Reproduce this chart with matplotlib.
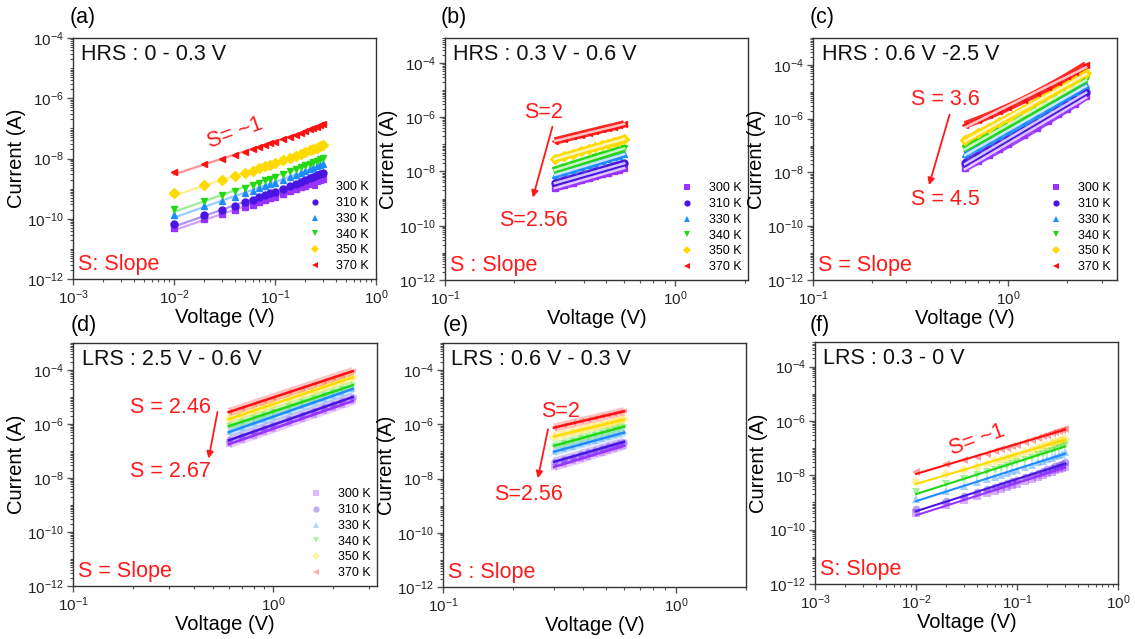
import numpy as np
import matplotlib
matplotlib.use("Agg")
import matplotlib.pyplot as plt
from matplotlib.lines import Line2D
from matplotlib.ticker import LogLocator, LogFormatterSciNotation, NullFormatter

plt.rcParams['font.family'] = ['Liberation Sans', 'DejaVu Sans']
plt.rcParams['mathtext.fontset'] = 'custom'
plt.rcParams['mathtext.rm'] = 'Liberation Sans'
plt.rcParams['mathtext.it'] = 'Liberation Sans:italic'
plt.rcParams['mathtext.bf'] = 'Liberation Sans:bold'
plt.rcParams['mathtext.default'] = 'regular'

temps = ['300 K', '310 K', '330 K', '340 K', '350 K', '370 K']
colors = ['#9933FF', '#4A14E2', '#1E8CFF', '#22D812', '#FFDA00', '#FF1010']
markers = ['s', 'o', '^', 'v', 'D', '<']

# voltages for each region
v_low = [0.01, 0.02, 0.03, 0.04, 0.05, 0.06, 0.07, 0.08, 0.09, 0.10,
         0.12, 0.14, 0.16, 0.18, 0.20, 0.22, 0.24, 0.26, 0.28, 0.30]
v_mid = [0.30, 0.33, 0.36, 0.39, 0.42, 0.45, 0.48, 0.51, 0.54, 0.57, 0.60]
v_high = [0.6, 0.7, 0.8, 0.9, 1.0, 1.2, 1.4, 1.6, 1.8, 2.0, 2.2, 2.5]

# log10(current), rows = 300,310,330,340,350,370 K
logi_a = [
    [-10.30, -10.02, -9.85, -9.72, -9.61, -9.53, -9.45, -9.38, -9.32, -9.27, -9.18, -9.09, -9.02, -8.96, -8.90, -8.84, -8.79, -8.75, -8.71, -8.67],
    [-10.18, -9.89, -9.71, -9.57, -9.46, -9.37, -9.29, -9.22, -9.16, -9.10, -9.00, -8.92, -8.84, -8.77, -8.71, -8.66, -8.61, -8.56, -8.51, -8.47],
    [-9.88, -9.59, -9.41, -9.27, -9.16, -9.07, -8.99, -8.92, -8.86, -8.80, -8.70, -8.62, -8.54, -8.47, -8.41, -8.36, -8.31, -8.26, -8.21, -8.17],
    [-9.69, -9.40, -9.22, -9.08, -8.97, -8.88, -8.80, -8.73, -8.67, -8.61, -8.51, -8.43, -8.35, -8.28, -8.22, -8.17, -8.12, -8.07, -8.02, -7.98],
    [-9.15, -8.88, -8.71, -8.59, -8.49, -8.40, -8.33, -8.26, -8.20, -8.15, -8.06, -7.98, -7.91, -7.84, -7.79, -7.73, -7.69, -7.64, -7.60, -7.56],
    [-8.45, -8.18, -8.01, -7.89, -7.79, -7.70, -7.63, -7.56, -7.50, -7.45, -7.36, -7.28, -7.21, -7.14, -7.09, -7.03, -6.99, -6.94, -6.90, -6.86],
]
logi_b = [
    [-8.61, -8.51, -8.42, -8.33, -8.25, -8.18, -8.11, -8.04, -7.98, -7.93, -7.87],
    [-8.43, -8.33, -8.24, -8.15, -8.08, -8.00, -7.94, -7.87, -7.81, -7.75, -7.70],
    [-8.13, -8.02, -7.93, -7.84, -7.76, -7.68, -7.61, -7.54, -7.48, -7.42, -7.36],
    [-7.95, -7.84, -7.74, -7.65, -7.56, -7.48, -7.41, -7.34, -7.27, -7.21, -7.15],
    [-7.54, -7.44, -7.35, -7.26, -7.18, -7.11, -7.04, -6.97, -6.91, -6.86, -6.80],
    [-6.88, -6.79, -6.71, -6.64, -6.57, -6.51, -6.45, -6.40, -6.35, -6.30, -6.25],
]
logi_c = [
    [-7.83, -7.57, -7.34, -7.14, -6.95, -6.62, -6.33, -6.07, -5.84, -5.63, -5.44, -5.17],
    [-7.64, -7.38, -7.15, -6.95, -6.76, -6.43, -6.14, -5.88, -5.65, -5.44, -5.25, -4.99],
    [-7.31, -7.06, -6.84, -6.64, -6.46, -6.14, -5.86, -5.61, -5.38, -5.18, -5.00, -4.74],
    [-7.09, -6.84, -6.62, -6.42, -6.24, -5.92, -5.64, -5.39, -5.16, -4.96, -4.78, -4.52],
    [-6.79, -6.55, -6.34, -6.14, -5.97, -5.66, -5.38, -5.14, -4.93, -4.73, -4.55, -4.30],
    [-6.23, -6.05, -5.88, -5.72, -5.57, -5.30, -5.05, -4.83, -4.62, -4.43, -4.25, -4.00],
]
logi_d = [
    [-6.75, -6.58, -6.43, -6.30, -6.18, -5.97, -5.80, -5.65, -5.52, -5.40, -5.29, -5.15],
    [-6.60, -6.43, -6.28, -6.15, -6.03, -5.82, -5.65, -5.50, -5.37, -5.25, -5.14, -5.00],
    [-6.30, -6.13, -5.98, -5.85, -5.73, -5.52, -5.35, -5.20, -5.07, -4.95, -4.84, -4.70],
    [-6.08, -5.92, -5.77, -5.65, -5.54, -5.34, -5.18, -5.04, -4.91, -4.80, -4.70, -4.56],
    [-5.82, -5.65, -5.51, -5.38, -5.27, -5.07, -4.90, -4.76, -4.63, -4.51, -4.41, -4.27],
    [-5.56, -5.40, -5.25, -5.13, -5.02, -4.82, -4.66, -4.52, -4.39, -4.28, -4.18, -4.04],
]
logi_e = [
    [-7.57, -7.46, -7.37, -7.28, -7.19, -7.11, -7.04, -6.97, -6.91, -6.85, -6.79],
    [-7.38, -7.28, -7.19, -7.10, -7.02, -6.95, -6.88, -6.81, -6.75, -6.70, -6.64],
    [-7.01, -6.91, -6.82, -6.74, -6.67, -6.60, -6.53, -6.47, -6.41, -6.35, -6.30],
    [-6.79, -6.69, -6.60, -6.52, -6.45, -6.38, -6.31, -6.25, -6.19, -6.13, -6.08],
    [-6.45, -6.36, -6.28, -6.21, -6.14, -6.08, -6.02, -5.97, -5.92, -5.87, -5.82],
    [-6.12, -6.04, -5.96, -5.89, -5.83, -5.77, -5.71, -5.66, -5.61, -5.56, -5.52],
]
logi_f = [
    [-9.39, -9.10, -8.92, -8.78, -8.67, -8.58, -8.50, -8.43, -8.37, -8.31, -8.21, -8.13, -8.05, -7.98, -7.92, -7.87, -7.82, -7.77, -7.72, -7.68],
    [-9.24, -8.95, -8.77, -8.63, -8.52, -8.43, -8.35, -8.28, -8.22, -8.16, -8.06, -7.98, -7.90, -7.83, -7.77, -7.72, -7.67, -7.62, -7.57, -7.53],
    [-8.87, -8.58, -8.40, -8.26, -8.15, -8.06, -7.98, -7.91, -7.85, -7.79, -7.69, -7.61, -7.53, -7.46, -7.40, -7.35, -7.30, -7.25, -7.20, -7.16],
    [-8.61, -8.32, -8.14, -8.00, -7.89, -7.80, -7.72, -7.65, -7.59, -7.53, -7.43, -7.35, -7.27, -7.20, -7.14, -7.09, -7.04, -6.99, -6.94, -6.90],
    [-8.24, -7.97, -7.80, -7.68, -7.58, -7.49, -7.42, -7.35, -7.29, -7.24, -7.15, -7.07, -7.00, -6.93, -6.88, -6.82, -6.78, -6.73, -6.69, -6.65],
    [-7.87, -7.60, -7.43, -7.31, -7.21, -7.12, -7.05, -6.98, -6.92, -6.87, -6.78, -6.70, -6.63, -6.56, -6.51, -6.45, -6.41, -6.36, -6.32, -6.28],
]

titles = ['HRS : 0 - 0.3 V', 'HRS : 0.3 V - 0.6 V', 'HRS : 0.6 V -2.5 V',
          'LRS : 2.5 V - 0.6 V', 'LRS : 0.6 V - 0.3 V', 'LRS : 0.3 - 0 V']
slope_notes = ['S: Slope', 'S : Slope', 'S = Slope', 'S = Slope', 'S : Slope', 'S: Slope']
letters = ['(a)', '(b)', '(c)', '(d)', '(e)', '(f)']

W, H = 1135, 639
fig = plt.figure(figsize=(W / 100, H / 100), dpi=100)


def box(l, r, t, b):
    return [l / W, 1 - b / H, (r - l) / W, (b - t) / H]


boxes = [box(73, 376, 38, 279), box(445, 748, 38, 280), box(813, 1117, 38, 280),
         box(73, 377, 343, 586), box(443, 746, 343, 587), box(815, 1118, 342, 584)]
xlims = [(1e-3, 1), (0.1, 2.07), (0.1, 3.6), (0.1, 3.3), (0.1, 2.0), (1e-3, 1)]
ylims = [(1e-12, 1e-4), (1e-12, 8.3e-4), (1e-12, 1e-3), (1e-12, 1e-3), (1e-12, 1e-3), (1e-12, 8e-4)]
letter_pos = [(70, 17), (441, 17), (810, 17), (71, 325), (443, 325), (810, 325)]

panels = [
    (v_low, logi_a, 'dots'),
    (v_mid, logi_b, 'band'),
    (v_high, logi_c, 'band'),
    (v_high, logi_d, 'faded'),
    (v_mid, logi_e, 'faded'),
    (v_low, logi_f, 'fadeddots'),
]

axes = []
for i, (v, logi, style) in enumerate(panels):
    ax = fig.add_axes(boxes[i])
    axes.append(ax)
    ax.set_xscale('log')
    ax.set_yscale('log')
    v = np.array(v)
    for k in range(6):
        cur = 10 ** np.array(logi[k])
        c = colors[k]
        p = np.polyfit(np.log10(v), logi[k], 1)
        vf = np.array([v.min(), v.max()])
        fit = 10 ** np.polyval(p, np.log10(vf))
        if style == 'dots':
            ax.plot(vf, fit, color=c, lw=1.6, alpha=0.45, zorder=2)
            ax.plot(v, cur, ls='none', marker=markers[k], ms=5, color=c, mec=c, zorder=3)
        elif style == 'band':
            ax.plot(v, cur, color=c, lw=5.5, alpha=0.9, solid_capstyle='butt', zorder=2)
            ax.plot(v, cur, ls='none', marker=markers[k], ms=5, color=c, zorder=2)
            ax.plot(vf, fit, color='white', lw=1.8, alpha=0.75, zorder=3)
        elif style == 'faded':
            ax.plot(v, cur, color=c, lw=6, alpha=0.25, solid_capstyle='butt', zorder=2)
            ax.plot(v, cur, ls='none', marker=markers[k], ms=5, color=c, alpha=0.3, mew=0, zorder=2)
            ax.plot(vf, fit, color=c, lw=1.8, zorder=3)
        else:
            ax.plot(v, cur, ls='none', marker=markers[k], ms=5.5, color=c, alpha=0.4, mew=0, zorder=2)
            ax.plot(vf, fit, color=c, lw=1.5, zorder=3)

    ax.set_xlim(*xlims[i])
    ax.set_ylim(*ylims[i])
    ax.yaxis.set_major_formatter(LogFormatterSciNotation())
    ax.set_yticks([1e-12, 1e-10, 1e-8, 1e-6, 1e-4])
    ax.yaxis.set_minor_locator(LogLocator(base=10, subs=np.arange(1, 10), numticks=40))
    ax.yaxis.set_minor_formatter(NullFormatter())
    ax.xaxis.set_major_locator(LogLocator(base=10, subs=(1.0,), numticks=10))
    ax.xaxis.set_minor_locator(LogLocator(base=10, subs=np.arange(2, 10), numticks=10))
    ax.xaxis.set_minor_formatter(NullFormatter())
    ax.tick_params(which='major', labelsize=11, length=4, width=1, color='#555555',
                   labelcolor='#222222', pad=2.5)
    ax.tick_params(which='minor', length=2, width=0.8, color='#555555')
    for s in ax.spines.values():
        s.set_color('#333333')
        s.set_linewidth(1.0)
    ax.set_xlabel('Voltage (V)', fontsize=14.5, labelpad=1)
    ax.set_ylabel('Current (A)', fontsize=14.5, labelpad=1)
    ax.text(0.028, 0.975, titles[i], transform=ax.transAxes, ha='left', va='top',
            fontsize=15.5, color='#111111')
    ax.text(0.015, 0.015, slope_notes[i], transform=ax.transAxes, ha='left', va='bottom',
            fontsize=15.5, color='#FF1A1A')
    lx, ly = letter_pos[i]
    fig.text(lx / W, 1 - ly / H, letters[i], ha='left', va='center', fontsize=15.5)

    if i < 4:
        handles = [Line2D([], [], ls='none', marker=markers[k], color=colors[k], ms=4.5,
                          alpha=(0.35 if style == 'faded' else 1.0), mew=0)
                   for k in range(6)]
        ax.legend(handles, temps, loc='lower right', frameon=False, fontsize=9,
                  handlelength=1.0, handletextpad=1.2, labelspacing=0.3,
                  borderaxespad=0.15)

red = '#FF1A1A'
# slope annotations
axes[0].text(0.04, 10 ** -7.16, 'S= ~1', color=red, fontsize=15.5, rotation=20,
             ha='center', va='center')
axes[5].text(0.04, 10 ** -6.69, 'S= ~1', color=red, fontsize=15.5, rotation=20,
             ha='center', va='center')

arrow_notes = [
    (1, 'S=2', (0.267, -5.81), 'S=2.56', (0.241, -9.79), (0.295, -6.25), (0.239, -9.06)),
    (2, 'S = 3.6', (0.475, -5.30), 'S = 4.5', (0.475, -9.02), (0.505, -5.75), (0.389, -8.57)),
    (3, 'S = 2.46', (0.305, -5.38), 'S = 2.67', (0.305, -7.75), (0.53, -5.45), (0.473, -7.38)),
    (4, 'S=2', (0.319, -5.52), 'S=2.56', (0.232, -8.57), (0.284, -6.08), (0.254, -8.09)),
]
for idx, t1, p1, t2, p2, a0, a1 in arrow_notes:
    ax = axes[idx]
    ax.text(p1[0], 10 ** p1[1], t1, color=red, fontsize=15.5, ha='center', va='center')
    ax.text(p2[0], 10 ** p2[1], t2, color=red, fontsize=15.5, ha='center', va='center')
    ax.annotate('', xy=(a1[0], 10 ** a1[1]), xytext=(a0[0], 10 ** a0[1]),
                arrowprops=dict(arrowstyle='-|>', color=red, lw=1.3, mutation_scale=10))

fig.savefig('out.png', dpi=100)
